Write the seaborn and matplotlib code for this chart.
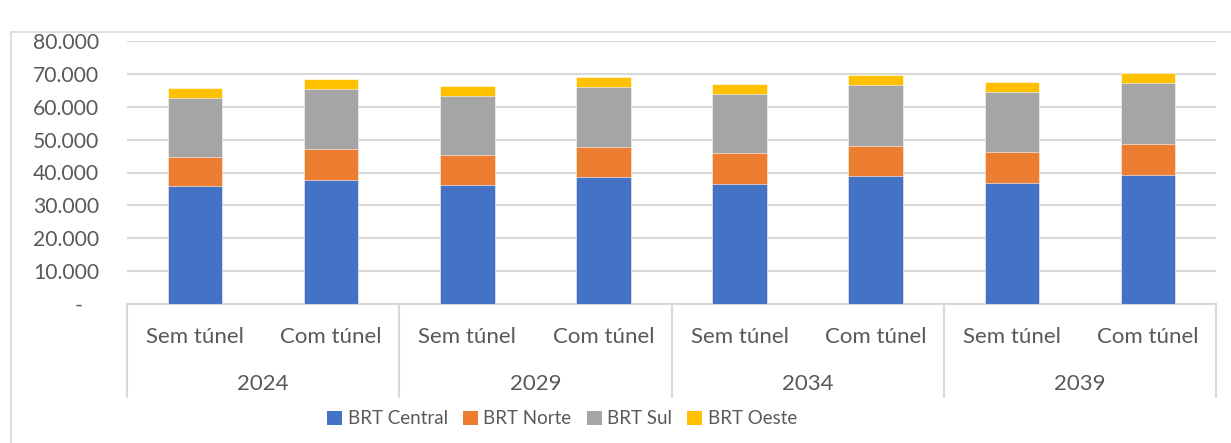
import numpy as np
import pandas as pd
import matplotlib.pyplot as plt
import seaborn as sns
from matplotlib.patches import Patch, Rectangle
from matplotlib.ticker import FuncFormatter
import matplotlib.transforms as mtransforms

# Data (passengers per day, stacked by corridor)
years = ['2024', '2029', '2034', '2039']
scenarios = ['Sem túnel', 'Com túnel']
brt_central = [35900, 37800, 36200, 38500, 36600, 38800, 36900, 39100]
brt_norte = [8900, 9500, 9000, 9300, 9200, 9400, 9400, 9700]
brt_sul = [17900, 18000, 18100, 18200, 18200, 18500, 18200, 18500]
brt_oeste = [2900, 3000, 2900, 2900, 2900, 2900, 3100, 3000]

series_names = ['BRT Central', 'BRT Norte', 'BRT Sul', 'BRT Oeste']
colors = ['#4472C4', '#ED7D31', '#A5A5A5', '#FFC000']
text_color = '#595959'
grid_color = '#d9d9d9'

# Build table with cumulative tops for the stacked bars
df = pd.DataFrame({
    'cat': [y + ' ' + s for y in years for s in scenarios],
    'BRT Central': brt_central,
    'BRT Norte': brt_norte,
    'BRT Sul': brt_sul,
    'BRT Oeste': brt_oeste,
})
cum = df[series_names].cumsum(axis=1)
for name in series_names:
    df['top_' + name] = cum[name]

sns.set_style('white')
plt.rcParams['font.family'] = ['Lato', 'DejaVu Sans']

fig = plt.figure(figsize=(12.31, 4.43), dpi=100)
W, H = 1231, 443
ax = fig.add_axes([127 / W, (H - 304) / H, (1216 - 127) / W, (304 - 41) / H])

# Outer chart border
fig.patches.append(Rectangle((11 / W, -0.1), 1.2, (H - 32) / H + 0.1, transform=fig.transFigure,
                             fill=False, edgecolor=grid_color, linewidth=1.2))

# Draw stacked bars from the top layer downwards
for name, c in reversed(list(zip(series_names, colors))):
    sns.barplot(data=df, x='cat', y='top_' + name, color=c, saturation=1, width=0.4,
                errorbar=None, ax=ax, edgecolor='white', linewidth=0.4, zorder=3)

ax.set_xlim(-0.5, len(df) - 0.5)
ax.set_ylim(0, 80000)
ax.set_yticks(np.arange(0, 80001, 10000))
# Excel accounting style: zero shown as a dash
ax.yaxis.set_major_formatter(FuncFormatter(lambda v, p: '-   ' if v == 0 else f'{int(v):,}'.replace(',', '.')))
ax.tick_params(axis='y', length=0, pad=20, labelsize=15.2, labelcolor=text_color)
ax.set_xticks([])
ax.set_xlabel('')
ax.set_ylabel('')
ax.grid(axis='y', color=grid_color, linewidth=1.5, zorder=0)
ax.set_axisbelow(True)
for side in ['left', 'right', 'top']:
    ax.spines[side].set_visible(False)
ax.spines['bottom'].set_color(grid_color)
ax.spines['bottom'].set_linewidth(1.5)

# Multi-level category axis
trans = mtransforms.blended_transform_factory(ax.transData, ax.transAxes)
bottom = (304 - 397) / 263
for i in range(len(years) + 1):
    xb = -0.5 + 2 * i
    ax.plot([xb, xb], [0, bottom], transform=trans, color=grid_color, linewidth=1.5, clip_on=False)
for i, y in enumerate(years):
    for j, s in enumerate(scenarios):
        ax.text(2 * i + j, (304 - 337) / 263, s, transform=trans, ha='center', va='center',
                fontsize=16, color=text_color)
    ax.text(2 * i + 0.5, (304 - 384) / 263, y, transform=trans, ha='center', va='center',
            fontsize=16, color=text_color)

# Legend
handles = [Patch(facecolor=c, edgecolor='none', label=n) for n, c in zip(series_names, colors)]
fig.legend(handles=handles, loc='center', bbox_to_anchor=(562 / W, 24 / H), ncol=4, frameon=False,
           fontsize=13.5, labelcolor=text_color, handlelength=0.8, handleheight=0.8,
           handletextpad=0.3, columnspacing=0.8)

fig.savefig('out.png', dpi=100)
